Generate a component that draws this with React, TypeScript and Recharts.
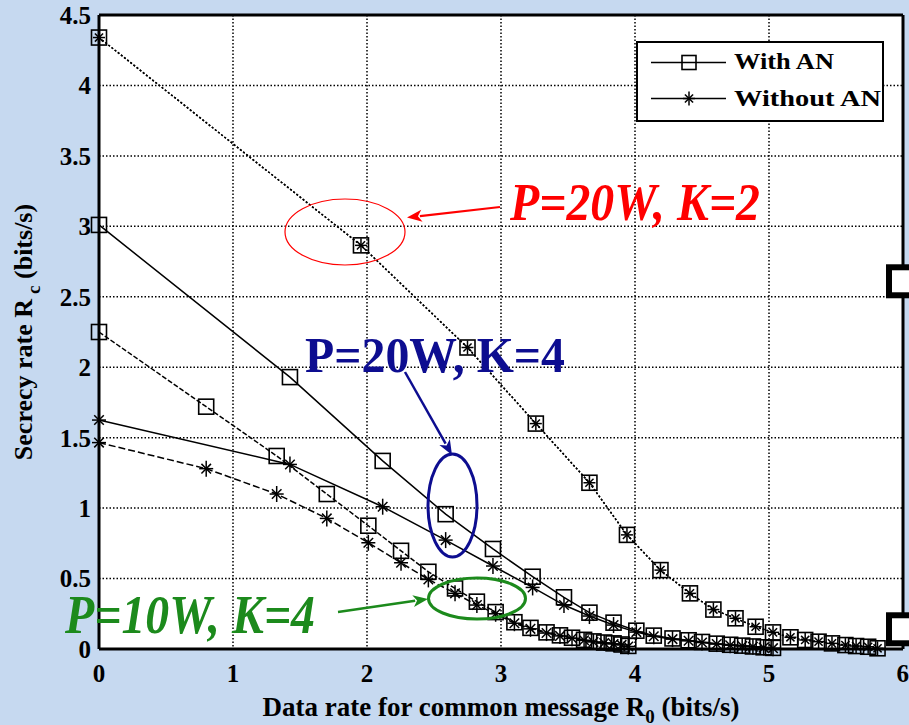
import React from 'react';
import { ComposedChart, Line, XAxis, YAxis, CartesianGrid, ReferenceLine, Legend, Label } from 'recharts';

const FONT = "'Liberation Serif', 'Times New Roman', serif";
const BG = '#c6d9f0';

const xTicks = [0, 1, 2, 3, 4, 5, 6];
const yTicks = [0, 0.5, 1, 1.5, 2, 2.5, 3, 3.5, 4, 4.5];

// P=20W, K=2 (with / without AN coincide)
const xP20K2 = [0, 1.955, 2.75, 3.26, 3.66, 3.94, 4.19, 4.41, 4.585, 4.75, 4.9, 5.03, 5.16, 5.27, 5.37, 5.47, 5.57, 5.65, 5.74, 5.81];
const yP20K2WithAN = [4.34, 2.865, 2.14, 1.6, 1.18, 0.81, 0.56, 0.395, 0.28, 0.218, 0.158, 0.118, 0.083, 0.064, 0.052, 0.04, 0.028, 0.021, 0.016, 0.005];
const yP20K2WithoutAN = [4.34, 2.865, 2.14, 1.6, 1.18, 0.81, 0.56, 0.395, 0.28, 0.218, 0.158, 0.118, 0.083, 0.064, 0.052, 0.04, 0.028, 0.021, 0.016, 0.005];

// P=20W, K=4
const xP20K4 = [0, 1.425, 2.117, 2.587, 2.94, 3.236, 3.47, 3.66, 3.84, 4.01, 4.14, 4.28, 4.4, 4.5, 4.61, 4.71, 4.8, 4.88, 4.96, 5.03];
const yP20K4WithAN = [3.01, 1.93, 1.335, 0.957, 0.71, 0.513, 0.367, 0.258, 0.187, 0.13, 0.095, 0.075, 0.062, 0.05, 0.038, 0.03, 0.024, 0.018, 0.012, 0.008];
const yP20K4WithoutAN = [1.625, 1.31, 1.01, 0.773, 0.589, 0.437, 0.312, 0.234, 0.17, 0.12, 0.09, 0.07, 0.058, 0.046, 0.035, 0.027, 0.021, 0.016, 0.01, 0.006];

// P=10W, K=4
const xP10K4 = [0, 0.8, 1.326, 1.7, 2.01, 2.254, 2.458, 2.657, 2.82, 2.96, 3.1, 3.22, 3.34, 3.44, 3.53, 3.62, 3.69, 3.77, 3.84, 3.9, 3.95];
const yP10K4WithAN = [2.25, 1.72, 1.37, 1.1, 0.875, 0.697, 0.548, 0.43, 0.336, 0.262, 0.19, 0.15, 0.118, 0.097, 0.08, 0.065, 0.054, 0.046, 0.04, 0.032, 0.022];
const yP10K4WithoutAN = [1.465, 1.28, 1.1, 0.927, 0.754, 0.612, 0.494, 0.395, 0.312, 0.25, 0.183, 0.143, 0.113, 0.093, 0.076, 0.062, 0.05, 0.042, 0.036, 0.029, 0.018];

// stray thick markers on the right edge
const xEdge = [6, 6];
const yEdge = [2.61, 0.14];

const toPoints = (xs: number[], ys: number[]) => xs.map((x, i) => ({ x, y: ys[i] }));

const dataP20K2With = toPoints(xP20K2, yP20K2WithAN);
const dataP20K2Without = toPoints(xP20K2, yP20K2WithoutAN);
const dataP20K4With = toPoints(xP20K4, yP20K4WithAN);
const dataP20K4Without = toPoints(xP20K4, yP20K4WithoutAN);
const dataP10K4With = toPoints(xP10K4, yP10K4WithAN);
const dataP10K4Without = toPoints(xP10K4, yP10K4WithoutAN);
const dataEdge = toPoints(xEdge, yEdge);

const Square = ({ cx, cy, s = 15, sw = 1.6 }: any) => (
  <rect x={cx - s / 2} y={cy - s / 2} width={s} height={s} fill="none" stroke="#000" strokeWidth={sw} />
);

const Star = ({ cx, cy, r = 7 }: any) => {
  const d = r * 0.68;
  return (
    <g stroke="#000" strokeWidth={1.5}>
      <line x1={cx - r} y1={cy} x2={cx + r} y2={cy} />
      <line x1={cx} y1={cy - r - 1} x2={cx} y2={cy + r + 1} />
      <line x1={cx - d} y1={cy - d} x2={cx + d} y2={cy + d} />
      <line x1={cx - d} y1={cy + d} x2={cx + d} y2={cy - d} />
    </g>
  );
};

const squareDot = (p: any) => (p.cx == null ? <g key={`s${p.index}`} /> : <Square key={`s${p.index}`} cx={p.cx} cy={p.cy} />);
const starDot = (p: any) => (p.cx == null ? <g key={`t${p.index}`} /> : <Star key={`t${p.index}`} cx={p.cx} cy={p.cy} />);
const smallSquareDot = (p: any) => (p.cx == null ? <g key={`q${p.index}`} /> : <Square key={`q${p.index}`} cx={p.cx} cy={p.cy} s={15} />);
const smallStarDot = (p: any) => (p.cx == null ? <g key={`u${p.index}`} /> : <Star key={`u${p.index}`} cx={p.cx} cy={p.cy} r={6} />);
const edgeDot = (p: any) =>
  p.cx == null ? <g key={`e${p.index}`} /> : (
    <rect key={`e${p.index}`} x={p.cx - 14} y={p.cy - 14} width={28} height={28} fill="#fff" stroke="#000" strokeWidth={6} />
  );

const LegendBox = () => (
  <svg width={249} height={82} style={{ display: 'block' }}>
    <rect x={1} y={1} width={246} height={79} fill="#fff" stroke="#000" strokeWidth={2} />
    <line x1={15} y1={21.5} x2={90} y2={21.5} stroke="#000" strokeWidth={1.5} />
    <Square cx={53} cy={21.5} s={14} />
    <text x={98} y={28} fontFamily={FONT} fontWeight={700} fontSize={24} textLength={100} lengthAdjust="spacingAndGlyphs" fill="#000">With AN</text>
    <line x1={15} y1={57.5} x2={90} y2={57.5} stroke="#000" strokeWidth={1.5} />
    <Star cx={53} cy={57.5} r={6} />
    <text x={98} y={65} fontFamily={FONT} fontWeight={700} fontSize={24} textLength={147} lengthAdjust="spacingAndGlyphs" fill="#000">Without AN</text>
  </svg>
);

const XTitle = (props: any) => {
  const vb = props.viewBox || { x: 99, y: 649, width: 804 };
  const cx = vb.x + vb.width / 2;
  return (
    <text x={cx} y={716} textAnchor="middle" fontFamily={FONT} fontWeight={700} fontSize={27} fill="#000">
      Data rate for common message R<tspan dy={7} fontSize={19}>0</tspan><tspan dy={-7}> (bits/s)</tspan>
    </text>
  );
};

const YTitle = () => (
  <text transform="translate(32,332) rotate(-90)" textAnchor="middle" fontFamily={FONT} fontWeight={700} fontSize={26} fill="#000">
    Secrecy rate R<tspan dx={5} dy={8} fontSize={19}>c</tspan><tspan dy={-8}> (bits/s)</tspan>
  </text>
);

const Arrow = ({ x1, y1, x2, y2, color, w = 2.5, hl = 15, hw = 6 }: any) => {
  const dx = x2 - x1;
  const dy = y2 - y1;
  const L = Math.sqrt(dx * dx + dy * dy);
  const ux = dx / L;
  const uy = dy / L;
  const bx = x2 - ux * hl;
  const by = y2 - uy * hl;
  const px = -uy * hw;
  const py = ux * hw;
  return (
    <g>
      <line x1={x1} y1={y1} x2={bx + ux * 2} y2={by + uy * 2} stroke={color} strokeWidth={w} />
      <polygon points={`${x2},${y2} ${bx + px},${by + py} ${bx + ux * 4},${by + uy * 4} ${bx - px},${by - py}`} fill={color} />
    </g>
  );
};

const RED = '#ff0000';
const NAVY = '#0d0d90';
const GREEN = '#1c8a1c';

export default function App() {
  const axisTick = { fontFamily: FONT, fontWeight: 700, fontSize: 25, fill: '#000' };
  return (
    <div style={{ position: 'absolute', left: 0, top: 0, width: 909, height: 725, background: BG, overflow: 'hidden' }}>
      <ComposedChart width={909} height={725} margin={{ top: 15, right: 6, bottom: 46, left: 39 }}>
        <CartesianGrid fill="#fff" stroke="#000" strokeWidth={1.5} strokeDasharray="1.5 2" />
        <XAxis
          type="number"
          dataKey="x"
          domain={[0, 6]}
          ticks={xTicks}
          tick={axisTick}
          tickLine={false}
          tickMargin={9}
          axisLine={{ stroke: '#000', strokeWidth: 3 }}
          height={30}
        >
          <Label content={XTitle} />
        </XAxis>
        <YAxis
          type="number"
          domain={[0, 4.5]}
          ticks={yTicks}
          tick={axisTick}
          tickLine={false}
          axisLine={{ stroke: '#000', strokeWidth: 3 }}
          width={60}
        >
          <Label content={YTitle} />
        </YAxis>
        <ReferenceLine y={4.5} stroke="#000" strokeWidth={3} ifOverflow="visible" />
        <ReferenceLine x={6} stroke="#000" strokeWidth={3} ifOverflow="visible" />
        <Line data={dataP20K2With} dataKey="y" name="P=20W, K=2 With AN" stroke="#000" strokeWidth={1.5} strokeDasharray="2 2" dot={smallSquareDot} activeDot={false} isAnimationActive={false} legendType="none" />
        <Line data={dataP20K2Without} dataKey="y" name="P=20W, K=2 Without AN" stroke="#000" strokeWidth={1.5} strokeDasharray="2 2" dot={smallStarDot} activeDot={false} isAnimationActive={false} legendType="none" />
        <Line data={dataP20K4With} dataKey="y" name="P=20W, K=4 With AN" stroke="#000" strokeWidth={1.5} dot={squareDot} activeDot={false} isAnimationActive={false} legendType="none" />
        <Line data={dataP20K4Without} dataKey="y" name="P=20W, K=4 Without AN" stroke="#000" strokeWidth={1.5} dot={starDot} activeDot={false} isAnimationActive={false} legendType="none" />
        <Line data={dataP10K4With} dataKey="y" name="P=10W, K=4 With AN" stroke="#000" strokeWidth={1.5} strokeDasharray="5 2" dot={squareDot} activeDot={false} isAnimationActive={false} legendType="none" />
        <Line data={dataP10K4Without} dataKey="y" name="P=10W, K=4 Without AN" stroke="#000" strokeWidth={1.5} strokeDasharray="7 3" dot={starDot} activeDot={false} isAnimationActive={false} legendType="none" />
        <Line data={dataEdge} dataKey="y" name="edge" stroke="none" dot={edgeDot} activeDot={false} isAnimationActive={false} legendType="none" />
        <Legend
          content={LegendBox}
          layout="horizontal"
          verticalAlign="middle"
          align="center"
          wrapperStyle={{ left: 636, top: 41, width: 249, height: 82 }}
        />
      </ComposedChart>
      <svg width={909} height={725} style={{ position: 'absolute', left: 0, top: 0, pointerEvents: 'none' }}>
        <ellipse cx={345} cy={232} rx={60} ry={33} fill="none" stroke={RED} strokeWidth={1.2} />
        <Arrow x1={500} y1={207} x2={407} y2={217.5} color={RED} w={2.2} />
        <text x={510} y={220} fontFamily={FONT} fontWeight={700} fontStyle="italic" fontSize={52} textLength={250} lengthAdjust="spacingAndGlyphs" fill={RED}>P=20W, K=2</text>

        <text x={305} y={372} fontFamily={FONT} fontWeight={700} fontSize={50} textLength={260} lengthAdjust="spacingAndGlyphs" fill={NAVY}>P=20W, K=4</text>
        <Arrow x1={405} y1={372} x2={452} y2={455} color={NAVY} w={2.5} />
        <ellipse cx={452.5} cy={505.5} rx={24.5} ry={51.5} fill="none" stroke={NAVY} strokeWidth={3} />

        <text x={65} y={633} fontFamily={FONT} fontWeight={700} fontStyle="italic" fontSize={54} textLength={250} lengthAdjust="spacingAndGlyphs" fill={GREEN}>P=10W, K=4</text>
        <Arrow x1={338} y1={612} x2={428} y2={599} color={GREEN} w={2.5} />
        <ellipse cx={477} cy={598.5} rx={48.5} ry={20.5} fill="none" stroke={GREEN} strokeWidth={3} />
      </svg>
    </div>
  );
}
